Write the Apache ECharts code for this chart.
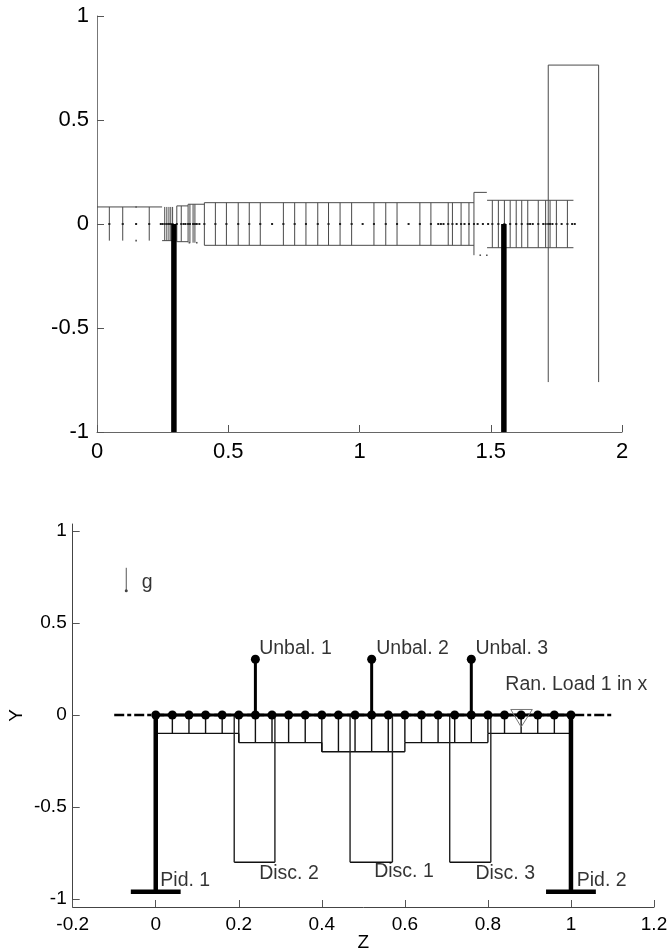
<!DOCTYPE html>
<html>
<head>
<meta charset="utf-8">
<style>html,body{margin:0;padding:0;background:#fff}#c{width:668px;height:951px}</style>
<script src="https://cdn.jsdelivr.net/npm/echarts@6/dist/echarts.min.js"></script>
</head>
<body>
<div id="c"></div>
<script>
// ---------- Upper plot: rotor cross-section ----------
const topXTicks = [0, 0.5, 1, 1.5, 2];
const topYTicks = [-1, -0.5, 0, 0.5, 1];
// stations of the shaft: [z, upper radius, lower radius]
const topStations = [
  [0.047,0.082,-0.08],[0.098,0.082,-0.08],[0.199,0.082,-0.08],
  [0.258,0.082,-0.08],[0.266,0.082,-0.08],[0.274,0.082,-0.08],[0.281,0.082,-0.08],[0.288,0.082,-0.08],
  [0.304,0.087,-0.085],[0.321,0.087,-0.085],[0.347,0.095,-0.088],
  [0.354,0.095,-0.09],[0.366,0.095,-0.09],[0.373,0.095,-0.09],
  [0.409,0.1025,-0.1025],[0.451,0.1025,-0.1025],[0.493,0.1025,-0.1025],[0.538,0.1025,-0.1025],
  [0.580,0.1025,-0.1025],[0.622,0.1025,-0.1025],[0.710,0.1025,-0.1025],[0.753,0.1025,-0.1025],
  [0.796,0.1025,-0.1025],[0.841,0.1025,-0.1025],[0.882,0.1025,-0.1025],[0.926,0.1025,-0.1025],
  [0.970,0.1025,-0.1025],[1.055,0.1025,-0.1025],[1.100,0.1025,-0.1025],[1.143,0.1025,-0.1025],
  [1.230,0.1025,-0.1025],[1.272,0.1025,-0.1025],[1.338,0.1025,-0.1025],[1.354,0.1025,-0.1025],
  [1.387,0.1025,-0.1025],[1.417,0.1025,-0.1025],
  [1.436,0.152,-0.15],
  [1.506,0.114,-0.114],[1.529,0.114,-0.114],[1.552,0.114,-0.114],[1.574,0.114,-0.114],[1.597,0.114,-0.114],
  [1.618,0.114,-0.114],[1.641,0.114,-0.114],[1.681,0.114,-0.114],[1.709,0.114,-0.114],[1.726,0.114,-0.114],
  [1.75,0.114,-0.114],[1.792,0.114,-0.114],
  [1.719,0.764,-0.76],[1.911,0.764,-0.76]
];
// horizontal outline pieces: [z start, z end, y]
const topOutline = [
  [0,0.248,0.082],[0.248,0.288,-0.08],
  [0.304,0.347,0.087],[0.304,0.347,-0.085],[0.347,0.409,0.095],
  [0.409,1.436,0.1025],[0.409,1.436,-0.1025],
  [1.436,1.485,0.152],
  [1.486,1.815,0.114],[1.486,1.815,-0.114],
  [1.719,1.911,0.764]
];
const topExtraDots = [0.149,0.243,0.25,0.33,0.337,0.38,0.39,0.667,1.012,1.187,1.30,1.31,1.32,1.37,1.40,1.45,1.47,1.49,1.65,1.66,1.70,1.735,1.77,1.81,1.82];
const topEdgeDots = [[0.149,-0.08],[0.149,0.082],[0.38,-0.09],[0.352,-0.09],[1.46,-0.15],[1.485,-0.15]];
const topBearingZ = [0.293, 1.55];

// ---------- Lower plot: model sketch ----------
const botXTicks = [-0.2, 0, 0.2, 0.4, 0.6, 0.8, 1, 1.2];
const botYTicks = [-1, -0.5, 0, 0.5, 1];
const nodeZ = [0,0.04,0.08,0.12,0.16,0.2,0.24,0.28,0.32,0.36,0.4,0.44,0.48,0.52,0.56,0.6,0.64,0.68,0.72,0.76,0.8,0.84,0.88,0.92,0.96,1];
const nodeDepth = [-0.1,-0.1,-0.1,-0.1,-0.1,-0.15,-0.15,-0.15,-0.15,-0.15,-0.2,-0.2,-0.2,-0.2,-0.2,-0.15,-0.15,-0.15,-0.15,-0.15,-0.1,-0.1,-0.1,-0.1,-0.1,-0.1];
const profile = [[0,0.2,-0.1],[0.2,0.4,-0.15],[0.4,0.6,-0.2],[0.6,0.8,-0.15],[0.8,1,-0.1]];
const profileSteps = [[0.2,-0.1,-0.15],[0.4,-0.15,-0.2],[0.6,-0.2,-0.15],[0.8,-0.15,-0.1]];
const discs = [[0.189,0.287,-0.8],[0.468,0.57,-0.8],[0.708,0.807,-0.8]];
const unbalanceZ = [0.24, 0.52, 0.76];
const unbalanceHeight = 0.303;
const pedestalZ = [0, 1];
const pedestalDepth = -0.96;
const pedestalHalfWidth = 0.06;
const annotations = [
  ['Unbal. 1',0.249,0.359],['Unbal. 2',0.531,0.359],['Unbal. 3',0.77,0.359],
  ['Ran. Load 1 in x',0.842,0.163],
  ['Pid. 1',0.011,-0.902],['Pid. 2',1.014,-0.902],
  ['Disc. 2',0.249,-0.86],['Disc. 1',0.526,-0.853],['Disc. 3',0.77,-0.86],
  ['g',-0.034,0.717]
];
const loadTriangle = [[0.855,0.03,0.907,0.03],[0.855,0.03,0.88,-0.065],[0.907,0.03,0.88,-0.065]];
const gravityArrow = [[-0.071,0.8,-0.071,0.675]];

const FONT = '"Liberation Sans", Arial, sans-serif';

function segs(grid, list, color, width, z) {
  return {
    type: 'custom', xAxisIndex: grid, yAxisIndex: grid, z: z || 2, silent: true, animation: false,
    clip: false, data: list, encode: {x: [0, 2], y: [1, 3]},
    renderItem: (params, api) => {
      const a = api.coord([api.value(0), api.value(1)]);
      const b = api.coord([api.value(2), api.value(3)]);
      return {type: 'line', shape: {x1: a[0], y1: a[1], x2: b[0], y2: b[1]},
              style: {stroke: color, lineWidth: width, fill: null, lineDash: null}};
    }
  };
}
function dots(grid, list, size, symbol, z, color) {
  return {type: 'scatter', xAxisIndex: grid, yAxisIndex: grid, data: list, symbol: symbol, symbolSize: size,
          itemStyle: {color: color || '#000', opacity: 1}, z: z || 3, silent: true, animation: false, clip: false};
}

const LINE = '#4a4a4a';
const series = [
  // upper plot
  segs(0, topStations.map(s => [s[0], s[1], s[0], s[2]]), LINE, 1),
  segs(0, topOutline.map(s => [s[0], s[2], s[1], s[2]]), LINE, 1),
  segs(0, topBearingZ.map(z => [z, 0, z, -1]), '#000', 5.5, 5),
  dots(0, topStations.filter(s => s[0] < 1.82).map(s => [s[0], 0]).concat(topExtraDots.map(z => [z, 0])), 2, 'rect', 4, '#222'),
  dots(0, topEdgeDots, 1.6, 'rect', 4, '#555'),
  // lower plot
  segs(1, nodeZ.map((z, i) => [z, 0, z, nodeDepth[i]]), '#111', 1.4),
  segs(1, profile.map(p => [p[0], p[2], p[1], p[2]]), '#111', 1.4),
  segs(1, profileSteps.map(p => [p[0], p[1], p[0], p[2]]), '#111', 1.4),
  segs(1, discs.map(d => [d[0], d[2], d[1], d[2]]), '#111', 1.4),
  segs(1, discs.flatMap(d => [[d[0], 0, d[0], d[2]], [d[1], 0, d[1], d[2]]]), '#222', 1.4),
  {
    type: 'line', xAxisIndex: 1, yAxisIndex: 1, data: [[-0.1, 0], [1.097, 0]], showSymbol: false, silent: true,
    animation: false, lineStyle: {color: '#000', width: 2.5, type: [10, 3, 4, 3]}, z: 4
  },
  segs(1, [[nodeZ[0], 0, nodeZ[nodeZ.length - 1], 0]], '#000', 3, 5),
  segs(1, unbalanceZ.map(z => [z, 0, z, unbalanceHeight]), '#000', 3, 5),
  segs(1, pedestalZ.map(z => [z, 0, z, pedestalDepth]), '#000', 4.5, 5),
  segs(1, pedestalZ.map(z => [z - pedestalHalfWidth, pedestalDepth, z + pedestalHalfWidth, pedestalDepth]), '#000', 4.5, 5),
  dots(1, nodeZ.map(z => [z, 0]), 9, 'circle', 6),
  dots(1, unbalanceZ.map(z => [z, unbalanceHeight]), 9, 'circle', 6),
  segs(1, loadTriangle, '#777', 1, 7),
  segs(1, gravityArrow, '#555', 1),
  dots(1, [[gravityArrow[0][2], gravityArrow[0][3]]], 3, 'circle', 4, '#444'),
  {
    type: 'scatter', xAxisIndex: 1, yAxisIndex: 1, symbolSize: 0, silent: true, animation: false, z: 8,
    data: annotations.map(a => ({name: a[0], value: [a[1], a[2]]})),
    label: {show: true, position: 'right', distance: 0, formatter: p => p.name,
            fontFamily: FONT, fontSize: 19.5, color: '#000', align: 'left', verticalAlign: 'middle'}
  }
];

function xAxis(grid, min, max, ticks, size, margin, name) {
  return {
    type: 'value', gridIndex: grid, min: min, max: max, splitLine: {show: false},
    name: name || '', nameLocation: 'middle', nameGap: 26, nameMoveOverlap: false,
    nameTextStyle: {fontFamily: FONT, fontSize: 19, color: '#000'},
    axisLine: {onZero: false, lineStyle: {color: grid ? '#444' : '#666', width: 1}},
    axisTick: {show: true, inside: true, length: 7, customValues: ticks, lineStyle: {color: '#555', width: 1}},
    axisLabel: {customValues: ticks, fontFamily: FONT, fontSize: size, color: '#000', margin: margin,
                formatter: v => String(v), hideOverlap: false, showMinLabel: true, showMaxLabel: true}
  };
}
function yAxis(grid, min, max, ticks, size, margin, name) {
  return {
    type: 'value', gridIndex: grid, min: min, max: max, splitLine: {show: false},
    name: name || '', nameLocation: 'middle', nameGap: 46, nameRotate: 90, nameMoveOverlap: false,
    nameTextStyle: {fontFamily: FONT, fontSize: 19, color: '#000'},
    axisLine: {onZero: false, lineStyle: {color: grid ? '#444' : '#777', width: 1}},
    axisTick: {show: true, inside: true, length: 7, customValues: ticks, lineStyle: {color: '#555', width: 1}},
    axisLabel: {customValues: ticks, fontFamily: FONT, fontSize: size, color: '#000', margin: margin,
                formatter: v => String(v), hideOverlap: false, showMinLabel: true, showMaxLabel: true}
  };
}

const chart = echarts.init(document.getElementById('c'), null, {renderer: 'canvas'});
chart.setOption({
  animation: false,
  backgroundColor: '#fff',
  grid: [
    {left: 97, top: 16, width: 525, height: 416, outerBoundsMode: 'none'},
    {left: 72.7, top: 524, width: 581.3, height: 383, outerBoundsMode: 'none'}
  ],
  xAxis: [
    xAxis(0, 0, 2, topXTicks, 22, 9),
    xAxis(1, -0.2, 1.2, botXTicks, 19, 8, 'Z')
  ],
  yAxis: [
    yAxis(0, -1, 1, topYTicks, 22, 8),
    yAxis(1, -1.0435, 1.038, botYTicks, 19, 6, 'Y')
  ],
  series: series
});
</script>
</body>
</html>
